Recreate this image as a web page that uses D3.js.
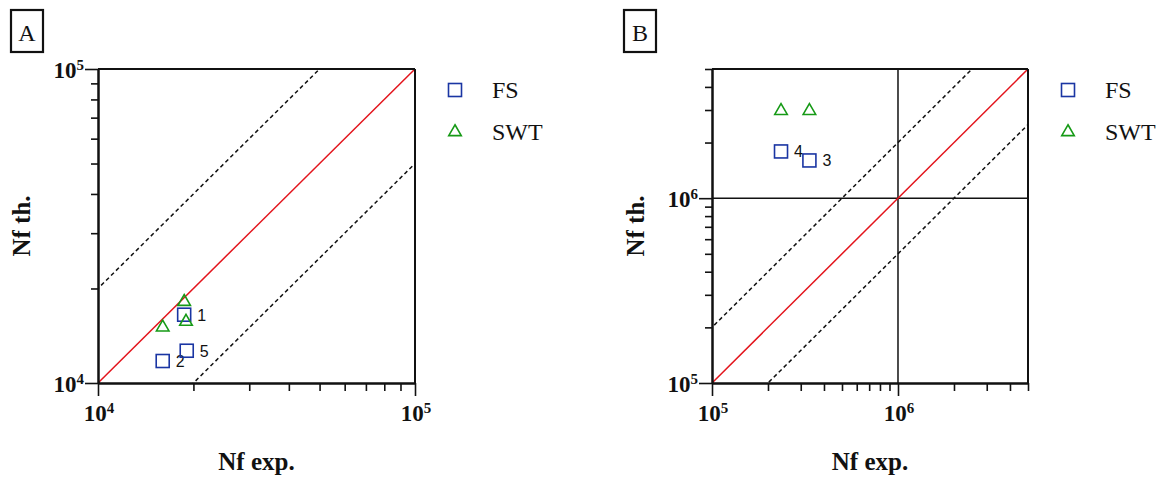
<!DOCTYPE html>
<html>
<head>
    <script src="https://cdnjs.cloudflare.com/ajax/libs/d3/7.8.5/d3.min.js"></script>
    <style>
        body { margin: 0; background: #fff; }
        .serif { font-family: "Liberation Serif", "Times New Roman", serif; }
        .tick line { stroke: #111; }
    </style>
</head>
<body>
    <div id="chart"></div>

    <script>
        const width = 1171;
        const height = 477;

        // Panel A (Nf exp vs Nf th, 1e4 .. 1e5)
        const fsA_exp = [18700, 16000, 19050];
        const fsA_th = [16500, 11750, 12670];
        const fsA_ids = ["1", "2", "5"];
        const swtA_exp = [18700, 18950, 16000];
        const swtA_th = [18150, 15680, 15040];

        // Panel B (1e5 .. 5e6)
        const fsB_exp = [235000, 334000];
        const fsB_th = [1790000, 1600000];
        const fsB_ids = ["4", "3"];
        const swtB_exp = [235000, 334000];
        const swtB_th = [2970000, 2970000];

        // reference lines y = k * x
        const ratios = [0.5, 1, 2];
        const legendNames = ["FS", "SWT"];

        const blue = "#1a35a3";
        const green = "#169a16";
        const red = "#e3141c";

        const svg = d3.select("#chart")
            .append("svg")
            .attr("width", width)
            .attr("height", height);

        function minorTicks(lo, hi) {
            const out = [];
            for (let d = lo; d < hi; d *= 10) {
                for (let m = 2; m <= 9; m++) {
                    const v = d * m;
                    if (v <= hi * 1.0001) out.push(v);
                }
            }
            return out;
        }

        function supLabel(g, x, y, base, exp, anchor) {
            const t = g.append("text")
                .attr("class", "serif")
                .attr("x", x)
                .attr("y", y)
                .attr("text-anchor", anchor)
                .attr("font-weight", "bold")
                .attr("font-size", "23px")
                .attr("fill", "#111");
            t.append("tspan").text(base);
            t.append("tspan").attr("dy", -8).attr("font-size", "15px").text(exp);
        }

        function drawPanel(opt) {
            const g = svg.append("g");
            const x = d3.scaleLog().domain(opt.domain).range([opt.x0, opt.x1]);
            const y = d3.scaleLog().domain(opt.domain).range([opt.y0, opt.y1]);

            // panel letter
            g.append("rect")
                .attr("x", opt.boxX).attr("y", 10)
                .attr("width", 32).attr("height", 42)
                .attr("fill", "none").attr("stroke", "#111").attr("stroke-width", 2.2);
            g.append("text")
                .attr("class", "serif")
                .attr("x", opt.boxX + 16).attr("y", 41)
                .attr("text-anchor", "middle")
                .attr("font-size", "24px")
                .attr("fill", "#111")
                .text(opt.letter);

            const clipId = "clip" + opt.letter;
            svg.append("clipPath").attr("id", clipId)
                .append("rect")
                .attr("x", opt.x0).attr("y", opt.y1)
                .attr("width", opt.x1 - opt.x0).attr("height", opt.y0 - opt.y1);

            const plot = g.append("g").attr("clip-path", `url(#${clipId})`);
            const line = d3.line().x(d => x(d[0])).y(d => y(d[1]));
            const dom = opt.domain;

            // crosshair lines
            (opt.cross || []).forEach(v => {
                plot.append("line")
                    .attr("x1", x(v)).attr("x2", x(v))
                    .attr("y1", opt.y0).attr("y2", opt.y1)
                    .attr("stroke", "#111").attr("stroke-width", 1.5);
                plot.append("line")
                    .attr("x1", opt.x0).attr("x2", opt.x1)
                    .attr("y1", y(v)).attr("y2", y(v))
                    .attr("stroke", "#111").attr("stroke-width", 1.5);
            });

            ratios.forEach(k => {
                plot.append("path")
                    .attr("d", line([[dom[0] / 4, dom[0] / 4 * k], [dom[1] * 4, dom[1] * 4 * k]]))
                    .attr("fill", "none")
                    .attr("stroke", k === 1 ? red : "#111")
                    .attr("stroke-width", 1.5)
                    .attr("stroke-dasharray", k === 1 ? null : "4,3");
            });

            // frame top/right
            g.append("line").attr("x1", opt.x0).attr("x2", opt.x1)
                .attr("y1", opt.y1).attr("y2", opt.y1)
                .attr("stroke", "#111").attr("stroke-width", 2);
            g.append("line").attr("x1", opt.x1).attr("x2", opt.x1)
                .attr("y1", opt.y1).attr("y2", opt.y0)
                .attr("stroke", "#111").attr("stroke-width", 2);

            const minors = minorTicks(dom[0], dom[1]).filter(v => !opt.majors.includes(v));

            // axes: minor and major ticks
            const xMinor = g.append("g").attr("transform", `translate(0,${opt.y0})`)
                .call(d3.axisBottom(x).tickValues(minors).tickSize(8).tickSizeOuter(0).tickFormat(""));
            const xMajor = g.append("g").attr("transform", `translate(0,${opt.y0})`)
                .call(d3.axisBottom(x).tickValues(opt.majors).tickSize(13).tickSizeOuter(0).tickFormat(""));
            const yMinor = g.append("g").attr("transform", `translate(${opt.x0},0)`)
                .call(d3.axisLeft(y).tickValues(minors).tickSize(7).tickSizeOuter(0).tickFormat(""));
            const yMajor = g.append("g").attr("transform", `translate(${opt.x0},0)`)
                .call(d3.axisLeft(y).tickValues(opt.majors).tickSize(13).tickSizeOuter(0).tickFormat(""));
            [xMinor, xMajor, yMinor, yMajor].forEach(a => {
                a.select(".domain").attr("stroke", "#111").attr("stroke-width", 2);
                a.selectAll(".tick line").attr("stroke-width", 1.6);
            });

            opt.majors.forEach(v => {
                const e = Math.round(Math.log10(v));
                supLabel(g, x(v) + 1, opt.y0 + 38, "10", String(e), "middle");
                supLabel(g, opt.x0 - 14, y(v) + 9, "10", String(e), "end");
            });

            // axis titles
            g.append("text")
                .attr("class", "serif")
                .attr("x", (opt.x0 + opt.x1) / 2)
                .attr("y", 470)
                .attr("text-anchor", "middle")
                .attr("font-weight", "bold")
                .attr("font-size", "25px")
                .attr("fill", "#111")
                .text("Nf exp.");
            g.append("text")
                .attr("class", "serif")
                .attr("transform", `translate(${opt.x0 - 68},${(opt.y0 + opt.y1) / 2}) rotate(-90)`)
                .attr("text-anchor", "middle")
                .attr("font-weight", "bold")
                .attr("font-size", "25px")
                .attr("fill", "#111")
                .text("Nf th.");

            // markers
            const sq = 13;
            const tri = d3.symbol().type(d3.symbolTriangle).size(68);
            opt.fsExp.forEach((v, i) => {
                const cx = x(v), cy = y(opt.fsTh[i]);
                g.append("rect")
                    .attr("x", cx - sq / 2).attr("y", cy - sq / 2)
                    .attr("width", sq).attr("height", sq)
                    .attr("fill", "none").attr("stroke", blue).attr("stroke-width", 1.6);
                g.append("text")
                    .attr("x", cx + 13).attr("y", cy + 6)
                    .attr("font-family", "Liberation Sans, Arial, sans-serif")
                    .attr("font-size", "16px")
                    .attr("fill", "#111")
                    .text(opt.fsIds[i]);
            });
            opt.swtExp.forEach((v, i) => {
                g.append("path")
                    .attr("d", tri())
                    .attr("transform", `translate(${x(v)},${y(opt.swtTh[i])})`)
                    .attr("fill", "none").attr("stroke", green).attr("stroke-width", 1.6);
            });

            // legend
            const lx = opt.legendX;
            legendNames.forEach((name, i) => {
                const ly = 90 + i * 42;
                if (i === 0) {
                    g.append("rect")
                        .attr("x", lx - sq / 2).attr("y", ly - sq / 2)
                        .attr("width", sq).attr("height", sq)
                        .attr("fill", "none").attr("stroke", blue).attr("stroke-width", 1.6);
                } else {
                    g.append("path")
                        .attr("d", tri())
                        .attr("transform", `translate(${lx},${ly})`)
                        .attr("fill", "none").attr("stroke", green).attr("stroke-width", 1.6);
                }
                g.append("text")
                    .attr("class", "serif")
                    .attr("x", lx + 37).attr("y", ly + 8)
                    .attr("font-size", "24px")
                    .attr("fill", "#111")
                    .text(name);
            });
        }

        drawPanel({
            letter: "A", boxX: 11,
            domain: [1e4, 1e5], majors: [1e4, 1e5],
            x0: 98, x1: 415, y0: 383, y1: 69,
            fsExp: fsA_exp, fsTh: fsA_th, fsIds: fsA_ids,
            swtExp: swtA_exp, swtTh: swtA_th,
            legendX: 455
        });

        drawPanel({
            letter: "B", boxX: 624,
            domain: [1e5, 5e6], majors: [1e5, 1e6], cross: [1e6],
            x0: 712, x1: 1028, y0: 383, y1: 69,
            fsExp: fsB_exp, fsTh: fsB_th, fsIds: fsB_ids,
            swtExp: swtB_exp, swtTh: swtB_th,
            legendX: 1068
        });
    </script>
</body>
</html>
